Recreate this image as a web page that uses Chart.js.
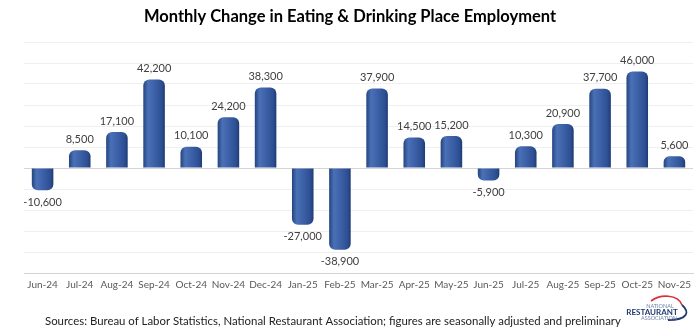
<!DOCTYPE html>
<html>
<head>
<meta charset="utf-8">
<script src="https://cdn.jsdelivr.net/npm/chart.js@4.4.1/dist/chart.umd.min.js"></script>
<style>
  html, body { margin: 0; padding: 0; background: #fff; }
  #wrap { width: 700px; height: 327px; }
</style>
</head>
<body>
<div id="wrap"><canvas id="myChart" width="700" height="327"></canvas></div>
<script>
const months = ['Jun-24', 'Jul-24', 'Aug-24', 'Sep-24', 'Oct-24', 'Nov-24', 'Dec-24', 'Jan-25', 'Feb-25',
    'Mar-25', 'Apr-25', 'May-25', 'Jun-25', 'Jul-25', 'Aug-25', 'Sep-25', 'Oct-25', 'Nov-25']
const jobChange = [-10600, 8500, 17100, 42200, 10100, 24200, 38300, -27000, -38900,
    37900, 14500, 15200, -5900, 10300, 20900, 37700, 46000, 5600]
const titleText = 'Monthly Change in Eating & Drinking Place Employment'
const sourceText = 'Sources: Bureau of Labor Statistics, National Restaurant Association; figures are seasonally adjusted and preliminary'

const fontFamily = 'Lato, "Open Sans", sans-serif'
const barPct = 0.58

// horizontal shading so every bar looks like a rounded column
function barGradient(context) {
    const chart = context.chart
    const xScale = chart.scales.x
    if (!xScale || context.dataIndex === undefined) return '#3a5ea8'
    const step = xScale.width / months.length
    const w = step * barPct
    const cx = xScale.getPixelForValue(context.dataIndex)
    if (!isFinite(cx) || !isFinite(w) || w <= 0) return '#3a5ea8'
    const g = chart.ctx.createLinearGradient(cx - w / 2, 0, cx + w / 2, 0)
    g.addColorStop(0, '#24447f')
    g.addColorStop(0.22, '#4a70b6')
    g.addColorStop(0.5, '#3e62a9')
    g.addColorStop(0.85, '#2d4f93')
    g.addColorStop(1, '#1f3b74')
    return g
}

const valueLabels = {
    id: 'valueLabels',
    afterDatasetsDraw(chart) {
        const ctx = chart.ctx
        const meta = chart.getDatasetMeta(0)
        ctx.save()
        ctx.font = '11px ' + fontFamily
        ctx.fillStyle = '#404040'
        ctx.textAlign = 'center'
        ctx.textBaseline = 'middle'
        meta.data.forEach((bar, i) => {
            const v = jobChange[i]
            const y = v >= 0 ? bar.y - 11 : bar.y + 12
            ctx.fillText(v.toLocaleString('en-US'), bar.x, y)
        })
        ctx.restore()
    }
}

// title centred on the whole picture, source line and logo underneath
const decorations = {
    id: 'decorations',
    afterDraw(chart) {
        const ctx = chart.ctx
        ctx.save()
        ctx.font = 'bold 16.5px ' + fontFamily
        ctx.fillStyle = '#000'
        ctx.textAlign = 'center'
        ctx.textBaseline = 'middle'
        ctx.fillText(titleText, 350, 17)

        ctx.font = '11.4px ' + fontFamily
        ctx.fillStyle = '#222'
        ctx.textAlign = 'left'
        ctx.fillText(sourceText, 45, 321)

        // association logo
        ctx.strokeStyle = '#d9323a'
        ctx.lineWidth = 1.6
        ctx.beginPath()
        ctx.moveTo(651, 301)
        ctx.bezierCurveTo(660, 294, 678, 294, 682, 305)
        ctx.stroke()
        ctx.strokeStyle = '#1f3a6e'
        ctx.lineWidth = 1.8
        ctx.beginPath()
        ctx.moveTo(682, 305)
        ctx.bezierCurveTo(690, 312, 688, 320, 668, 320)
        ctx.stroke()
        ctx.textAlign = 'center'
        ctx.fillStyle = '#6f7fa6'
        ctx.font = '5.5px ' + fontFamily
        ctx.fillText('NATIONAL', 660, 306)
        ctx.fillStyle = '#1f3a6e'
        ctx.font = 'bold 8px ' + fontFamily
        ctx.fillText('RESTAURANT', 652, 312.5)
        ctx.fillStyle = '#6f7fa6'
        ctx.font = '5.5px ' + fontFamily
        ctx.fillText('ASSOCIATION', 659, 318)
        ctx.restore()
    }
}

const config = {
    type: 'bar',
    data: {
        labels: months,
        datasets: [{
            data: jobChange,
            backgroundColor: barGradient,
            borderRadius: 6,
            borderSkipped: 'start',
            barPercentage: barPct,
            categoryPercentage: 1
        }]
    },
    options: {
        responsive: false,
        animation: false,
        layout: { padding: { left: 24, right: 7, top: 42, bottom: 30 } },
        plugins: {
            legend: { display: false },
            tooltip: { enabled: false },
            title: { display: false }
        },
        scales: {
            x: {
                grid: { display: false, drawTicks: false },
                border: { color: '#d4d4d4' },
                ticks: { color: '#595959', font: { family: fontFamily, size: 10 }, padding: 6, maxRotation: 0, autoSkip: false }
            },
            y: {
                min: -50000,
                max: 60000,
                ticks: { display: false, stepSize: 10000 },
                grid: {
                    drawTicks: false,
                    color: ctx => ctx.tick && ctx.tick.value === 0 ? '#d4d4d4' : '#efefef'
                },
                border: { display: false }
            }
        }
    },
    plugins: [valueLabels, decorations]
}

new Chart(document.getElementById('myChart'), config)
</script>
</body>
</html>
